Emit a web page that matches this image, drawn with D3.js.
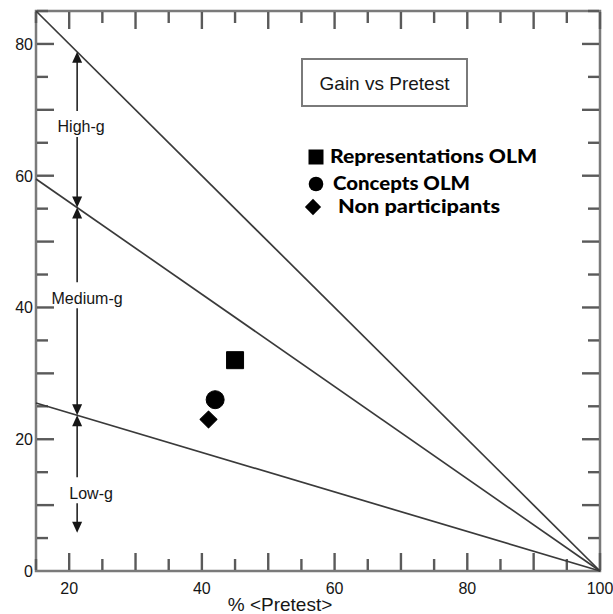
<!DOCTYPE html>
<html>
<head>
<meta charset="utf-8">
<script src="https://cdn.jsdelivr.net/npm/d3@7"></script>
<style>
  html, body { margin: 0; padding: 0; background: #fff; }
  svg { display: block; }
</style>
</head>
<body>
<svg id="chart" width="613" height="614" viewBox="0 0 613 614"></svg>
<script>
// ---- data ----
const groups = ["Representations OLM", "Concepts OLM", "Non participants"];
const symbols = ["square", "circle", "diamond"];
const pretest = [45, 42, 41];
const gain = [32, 26, 23];
const gainLevels = [1.0, 0.7, 0.3];            // normalized gain lines g*(100 - pretest)
const bandLabels = ["High-g", "Medium-g", "Low-g"];
const xTickLabels = [20, 40, 60, 80, 100];
const yTickLabels = [0, 20, 40, 60, 80];
const title = "Gain vs Pretest";
const xTitle = "% <Pretest>";

// ---- layout ----
const svg = d3.select("#chart");
const x = d3.scaleLinear().domain([15, 100]).range([36, 600]);
const y = d3.scaleLinear().domain([0, 85]).range([571, 11]);
const frameColor = "#7a7a7a";
const tickColor = "#5a5a5a";
const ink = "#161616";
const font = "'Liberation Sans', Arial, Helvetica, sans-serif";

// frame
svg.append("rect")
  .attr("x", x(15)).attr("y", y(85))
  .attr("width", x(100) - x(15)).attr("height", y(0) - y(85))
  .attr("fill", "none").attr("stroke", frameColor).attr("stroke-width", 2.5);

// inward ticks on all four sides
const xTicks = d3.range(15, 101, 5);
const yTicks = d3.range(5, 86, 5);
const tlen = v => (v % 10 === 0 ? 18 : 12);
const tickLayer = svg.append("g");
tickLayer.selectAll("polyline.xb").data(xTicks).join("polyline").attr("class", "xb")
  .attr("points", d => `${x(d)},${y(0) - 1} ${x(d)},${y(0) - tlen(d)}`);
tickLayer.selectAll("polyline.xt").data(xTicks).join("polyline").attr("class", "xt")
  .attr("points", d => `${x(d)},${y(85) + 1} ${x(d)},${y(85) + tlen(d)}`);
tickLayer.selectAll("polyline.yl").data(yTicks).join("polyline").attr("class", "yl")
  .attr("points", d => `${x(15) + 1},${y(d)} ${x(15) + tlen(d)},${y(d)}`);
tickLayer.selectAll("polyline.yr").data(yTicks).join("polyline").attr("class", "yr")
  .attr("points", d => `${x(100) - 1},${y(d)} ${x(100) - tlen(d)},${y(d)}`);
tickLayer.selectAll("polyline")
  .attr("fill", "none")
  .style("stroke", tickColor)
  .style("stroke-width", "2.4px")
  .style("opacity", 1);

// tick labels
svg.append("g").selectAll("text").data(xTickLabels).join("text")
  .attr("x", d => x(d)).attr("y", y(0) + 23)
  .attr("text-anchor", "middle")
  .style("font-family", font).style("font-size", "16px").attr("fill", ink)
  .text(d => d);
svg.append("g").selectAll("text").data(yTickLabels).join("text")
  .attr("x", x(15) - 3).attr("y", d => y(d) + 6)
  .attr("text-anchor", "end")
  .style("font-family", font).style("font-size", "16px").attr("fill", ink)
  .text(d => d);

// gain lines
const lineGen = d3.line().x(d => x(d[0])).y(d => y(d[1]));
svg.append("g").selectAll("path")
  .data(gainLevels)
  .join("path")
  .attr("d", g => lineGen([[15, g * 85], [100, 0]]))
  .attr("fill", "none").attr("stroke", "#3a3a3a").attr("stroke-width", 1.7);

// band annotations (vertical double arrows)
const arrowX = 21.2;
const bands = [
  { label: bandLabels[0], top: gainLevels[0], bottom: gainLevels[1], textY: 67.4, textX: 21.8, endY: null },
  { label: bandLabels[1], top: gainLevels[1], bottom: gainLevels[2], textY: 41.4, textX: 22.7, endY: null },
  { label: bandLabels[2], top: gainLevels[2], bottom: null, textY: 11.8, textX: 23.3, endY: 5.8 }
];
const ax = x(arrowX);
const ann = svg.append("g");
bands.forEach(b => {
  const yTop = y(b.top * (100 - arrowX));
  const yBot = b.bottom !== null ? y(b.bottom * (100 - arrowX)) : y(b.endY);
  const ty = y(b.textY);
  ann.append("path")
    .attr("d", `M${ax},${yTop + 8}L${ax},${ty - 16}M${ax},${ty + 10}L${ax},${yBot - 8}`)
    .attr("stroke", ink).attr("stroke-width", 1.5).attr("fill", "none");
  ann.append("path").attr("d", `M${ax},${yTop} L${ax - 5},${yTop + 11} L${ax + 5},${yTop + 11} Z`).attr("fill", ink);
  ann.append("path").attr("d", `M${ax},${yBot} L${ax - 5},${yBot - 11} L${ax + 5},${yBot - 11} Z`).attr("fill", ink);
  ann.append("text").attr("x", x(b.textX)).attr("y", ty + 5.5)
    .attr("text-anchor", "middle")
    .style("font-family", font)
    .style("font-size", "16px").attr("fill", ink)
    .text(b.label);
});

// title box
svg.append("rect").attr("x", 302).attr("y", 59).attr("width", 165).attr("height", 47)
  .attr("fill", "#fff").attr("stroke", frameColor).attr("stroke-width", 2);
svg.append("text").attr("x", 384.5).attr("y", 89.5).attr("text-anchor", "middle")
  .style("font-family", font).style("font-size", "19px")
  .attr("fill", ink).text(title);

// x axis title
svg.append("text").attr("x", 280).attr("y", 611).attr("text-anchor", "middle")
  .style("font-family", font).style("font-size", "19px")
  .attr("fill", ink).text(xTitle);

// symbols
const symType = { square: d3.symbolSquare, circle: d3.symbolCircle, diamond: d3.symbolSquare };
const symRot = { square: 0, circle: 0, diamond: 45 };
const symSize = { square: 17 * 17, circle: Math.PI * 9 * 9, diamond: 12 * 12 };
const pts = groups.map((gname, i) => ({ name: gname, sym: symbols[i], px: pretest[i], g: gain[i] }));
svg.append("g").selectAll("path")
  .data(pts)
  .join("path")
  .attr("transform", d => `translate(${x(d.px)},${y(d.g)}) rotate(${symRot[d.sym]})`)
  .attr("d", d => d3.symbol(symType[d.sym], symSize[d.sym])())
  .attr("fill", "#000").attr("stroke", "#000").attr("stroke-width", 1).attr("stroke-linejoin", "round");

// legend
const legendRows = [
  { sx: 316, cy: 157, tx: 330, base: 163, w: 207, size: 15 * 15 },
  { sx: 316, cy: 184, tx: 333, base: 190, w: 137, size: Math.PI * 7.3 * 7.3 },
  { sx: 313, cy: 207, tx: 338, base: 213, w: 162, size: 11.5 * 11.5 }
];
const leg = svg.append("g");
pts.forEach((d, i) => {
  const r = legendRows[i];
  leg.append("path").attr("transform", `translate(${r.sx},${r.cy}) rotate(${symRot[d.sym]})`)
    .attr("d", d3.symbol(symType[d.sym], r.size)()).attr("fill", "#000");
  leg.append("text").attr("x", r.tx).attr("y", r.base)
    .attr("textLength", r.w).attr("lengthAdjust", "spacingAndGlyphs")
    .style("font-family", "Lato, 'Open Sans', sans-serif").style("font-weight", "900")
    .style("font-size", "18px").attr("fill", "#000")
    .text(d.name);
});
</script>
</body>
</html>
